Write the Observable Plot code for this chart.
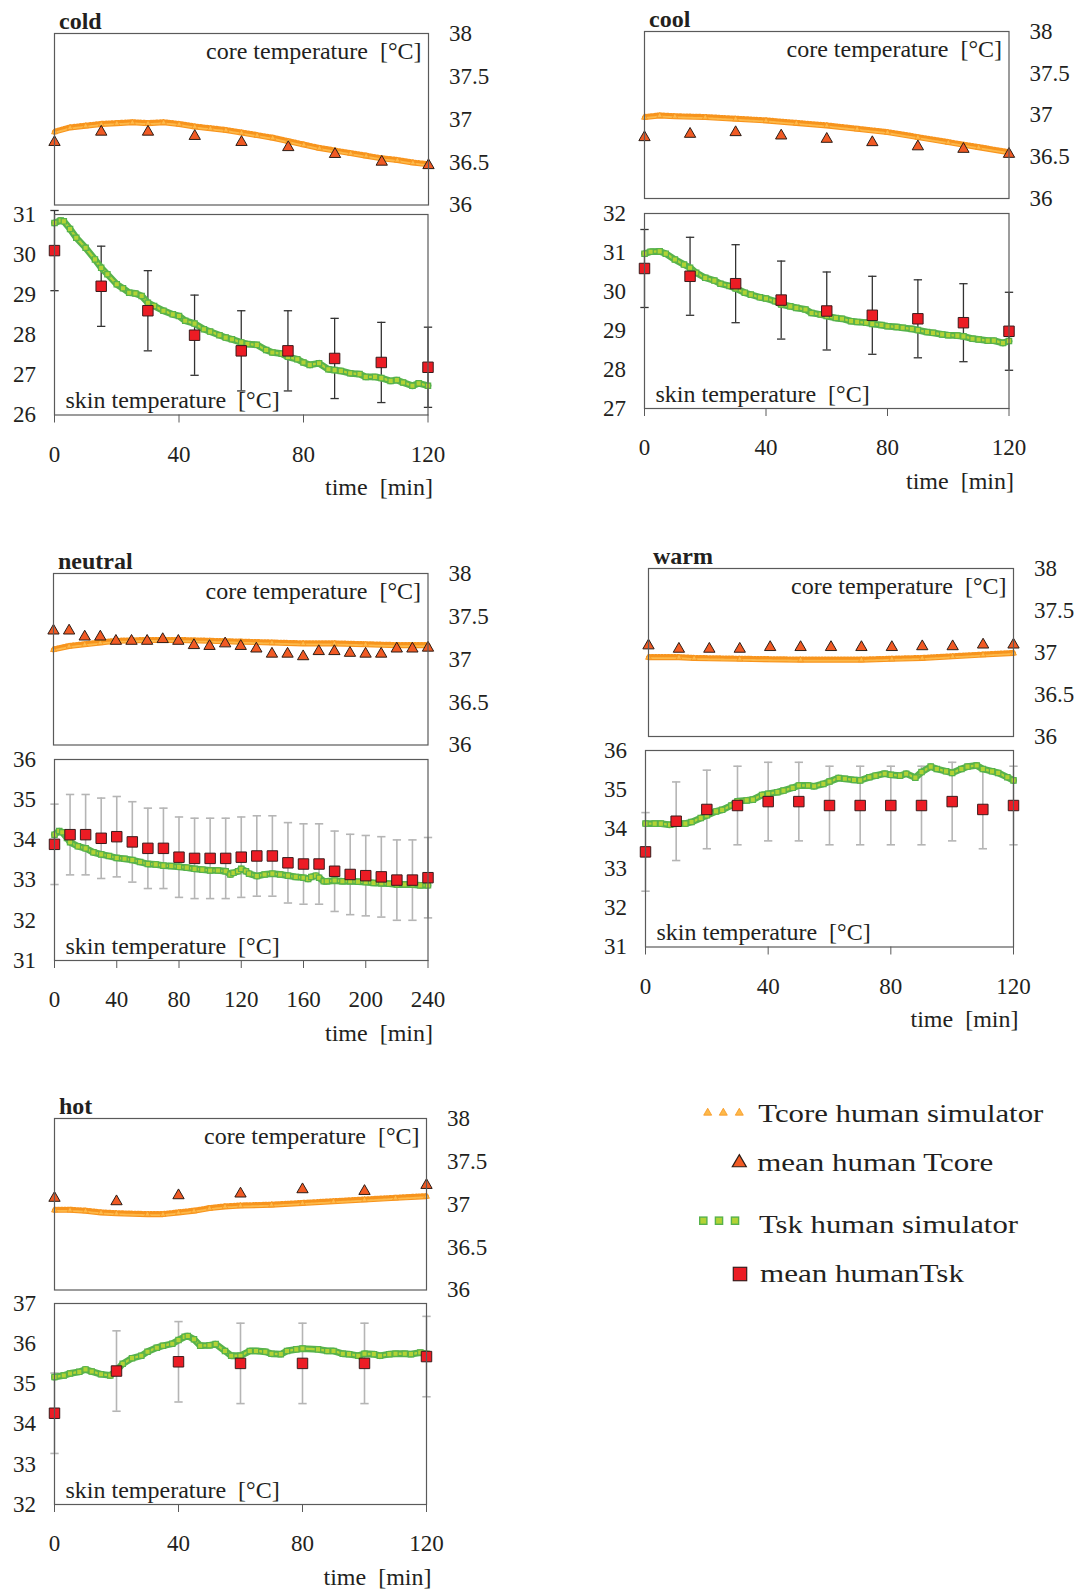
<!DOCTYPE html>
<html><head><meta charset="utf-8">
<script src="https://cdn.jsdelivr.net/npm/d3@7"></script>
<script src="https://cdn.jsdelivr.net/npm/@observablehq/plot@0.6"></script>
<style>
html,body{margin:0;padding:0;background:#fff}
#root{position:relative;width:1081px;height:1589px;background:#fff;overflow:hidden}
</style>
</head><body><div id="root"></div>
<script>
// ---------------- DATA ----------------
const coreTicks = [36, 36.5, 37, 37.5, 38];
const ticks120 = [0, 40, 80, 120];
const ticks240 = [0, 40, 80, 120, 160, 200, 240];

// cold
const coldMeanT = [0,15,30,45,60,75,90,105,120];
const coldCoreMean = [36.75,36.87,36.87,36.82,36.75,36.69,36.61,36.52,36.48];
const coldSkinMean = [30.10,29.21,28.60,27.99,27.60,27.60,27.41,27.31,27.19];
const coldSkinSD = [1.0,1.0,1.0,1.0,1.0,1.0,1.0,1.0,1.0];
const coldCoreSimT = [0,5,10,15,20,25,30,35,40,45,50,55,60,65,70,75,80,85,90,95,100,105,110,115,120];
const coldCoreSim = [36.85,36.90,36.92,36.94,36.95,36.96,36.95,36.96,36.94,36.91,36.89,36.87,36.84,36.81,36.78,36.74,36.70,36.66,36.63,36.60,36.57,36.54,36.52,36.49,36.47];
const coldSkinSimT = [0,2,3,5,7,10,13,15,17,20,22,24,26,28,30,32,35,38,40,42,45,48,50,53,55,57,60,62,65,68,70,73,75,78,80,82,85,88,90,92,95,98,100,103,105,108,110,112,115,117,120];
const coldSkinSim = [30.79,30.85,30.83,30.64,30.42,30.17,29.88,29.67,29.51,29.26,29.16,29.05,29.03,28.97,28.80,28.72,28.60,28.51,28.47,28.35,28.28,28.14,28.08,27.99,27.93,27.89,27.81,27.77,27.75,27.62,27.56,27.53,27.45,27.39,27.31,27.25,27.29,27.14,27.12,27.10,27.04,27.02,26.95,26.95,26.92,26.85,26.87,26.81,26.73,26.79,26.73];

// cool
const coolMeanT = [0,15,30,45,60,75,90,105,120];
const coolCoreMean = [36.75,36.79,36.81,36.77,36.73,36.69,36.64,36.61,36.55];
const coolSkinMean = [30.59,30.39,30.20,29.78,29.50,29.39,29.30,29.20,28.98];
const coolSkinSD = [1.0,1.0,1.0,1.0,1.0,1.0,1.0,1.0,1.0];
const coolCoreSimT = [0,5,10,20,30,40,50,60,70,80,90,100,110,120];
const coolCoreSim = [36.97,36.99,36.98,36.97,36.95,36.93,36.90,36.87,36.83,36.79,36.73,36.67,36.61,36.55];
const coolSkinSimT = [0,2,5,7,10,13,15,17,20,23,25,28,30,33,35,38,40,43,45,48,50,53,55,58,60,63,65,68,70,73,75,78,80,83,85,88,90,93,95,98,100,103,105,108,110,113,115,118,120];
const coolSkinSim = [30.97,31.02,31.03,30.97,30.82,30.69,30.61,30.48,30.35,30.28,30.20,30.14,30.08,29.97,29.92,29.85,29.82,29.75,29.67,29.62,29.58,29.54,29.45,29.41,29.37,29.32,29.30,29.24,29.22,29.20,29.17,29.14,29.11,29.09,29.07,29.04,29.01,28.96,28.94,28.90,28.88,28.87,28.85,28.79,28.77,28.74,28.74,28.68,28.73];

// neutral
const neutralMeanT = [0,10,20,30,40,50,60,70,80,90,100,110,120,130,140,150,160,170,180,190,200,210,220,230,240];
const neutralCoreMean = [37.35,37.35,37.28,37.28,37.23,37.23,37.23,37.25,37.23,37.18,37.17,37.20,37.17,37.14,37.08,37.08,37.05,37.11,37.11,37.09,37.08,37.08,37.14,37.14,37.15];
const neutralSkinMean = [33.89,34.13,34.13,34.04,34.08,33.95,33.79,33.79,33.57,33.54,33.54,33.54,33.57,33.60,33.60,33.43,33.40,33.40,33.22,33.14,33.11,33.08,33.00,33.00,33.06];
const neutralSkinSD = [1.0,1.0,1.0,1.0,1.0,1.0,1.0,1.0,1.0,1.0,1.0,1.0,1.0,1.0,1.0,1.0,1.0,1.0,1.0,1.0,1.0,1.0,1.0,1.0,1.0];
const neutralCoreSimT = [0,10,20,30,40,60,80,100,120,140,160,180,200,220,240];
const neutralCoreSim = [37.11,37.15,37.17,37.19,37.21,37.22,37.22,37.21,37.20,37.19,37.18,37.18,37.17,37.16,37.16];
const neutralSkinSimT = [0,3,5,8,10,15,20,25,30,35,40,45,50,55,60,65,70,75,80,85,90,95,100,105,110,113,115,118,120,123,125,130,135,140,145,150,155,160,163,165,168,170,173,175,180,185,190,195,200,205,210,215,220,225,230,235,240];
const neutralSkinSim = [34.13,34.22,34.19,34.05,33.94,33.84,33.79,33.69,33.64,33.60,33.55,33.53,33.50,33.45,33.40,33.39,33.36,33.35,33.33,33.31,33.28,33.26,33.24,33.24,33.22,33.14,33.18,33.22,33.28,33.22,33.16,33.10,33.14,33.16,33.14,33.11,33.08,33.06,33.03,33.08,33.11,33.06,32.97,32.97,32.99,32.97,32.97,32.96,32.95,32.93,32.92,32.91,32.89,32.89,32.89,32.87,32.87];

// warm
const warmMeanT = [0,10,20,30,40,50,60,70,80,90,100,110,120];
const warmCoreMean = [37.10,37.06,37.06,37.06,37.08,37.08,37.08,37.08,37.08,37.09,37.09,37.11,37.11];
const warmSkinMean = [33.42,34.20,34.50,34.60,34.70,34.70,34.60,34.60,34.60,34.60,34.70,34.50,34.60];
const warmSkinSD = [1.0,1.0,1.0,1.0,1.0,1.0,1.0,1.0,1.0,1.0,1.0,1.0,1.0];
const warmCoreSimT = [0,10,15,30,50,70,80,90,100,110,120];
const warmCoreSim = [36.94,36.94,36.93,36.92,36.91,36.91,36.92,36.93,36.95,36.97,36.99];
const warmSkinSimT = [0,3,5,8,10,13,15,18,20,23,25,28,30,33,35,38,40,43,45,48,50,53,55,58,60,63,65,68,70,73,75,78,80,83,85,88,90,93,95,98,100,103,105,108,110,113,115,118,120];
const warmSkinSim = [34.14,34.14,34.14,34.11,34.14,34.14,34.18,34.28,34.35,34.45,34.49,34.60,34.71,34.73,34.75,34.87,34.90,34.94,34.98,35.05,35.11,35.11,35.09,35.15,35.21,35.30,35.28,35.25,35.24,35.32,35.36,35.41,35.38,35.36,35.41,35.31,35.45,35.59,35.53,35.47,35.43,35.53,35.59,35.62,35.53,35.47,35.43,35.32,35.24];

// hot
const hotMeanT = [0,20,40,60,80,100,120];
const hotCoreMean = [37.09,37.05,37.12,37.14,37.19,37.17,37.24];
const hotSkinMean = [34.27,35.32,35.55,35.51,35.51,35.51,35.68];
const hotSkinSD = [1.0,1.0,1.0,1.0,1.0,1.0,1.0];
const hotCoreSimT = [0,5,10,15,20,30,35,40,45,50,55,60,70,80,90,100,110,120];
const hotCoreSim = [36.93,36.93,36.92,36.90,36.89,36.88,36.88,36.90,36.92,36.95,36.97,36.98,36.99,37.01,37.03,37.05,37.07,37.09];
const hotSkinSimT = [0,3,5,8,10,12,15,18,20,22,25,28,30,33,35,38,40,42,43,45,47,50,52,55,57,60,63,65,68,70,73,75,78,80,85,88,90,93,95,98,100,103,105,108,110,113,115,118,120];
const hotSkinSim = [35.17,35.21,35.26,35.30,35.36,35.31,35.24,35.21,35.33,35.50,35.64,35.70,35.80,35.90,35.95,36.00,36.09,36.17,36.19,36.11,35.95,35.96,35.99,35.82,35.70,35.70,35.82,35.82,35.80,35.75,35.74,35.82,35.86,35.88,35.86,35.82,35.82,35.75,35.74,35.70,35.75,35.74,35.70,35.74,35.75,35.75,35.74,35.78,35.75];

const legendLabels = ["Tcore human simulator", "mean human Tcore", "Tsk human simulator", "mean humanTsk"];

// ---------------- DRAWING ----------------
const root = document.getElementById("root");
const FONT = "'Liberation Serif','Times New Roman',Times,serif";
const INK = "#231f20";
const FRAME = "#5a5a5a";
const C_SIM_CORE = "#f7941d", C_SIM_CORE_IN = "#fdb94a";
const C_MEAN_CORE = "#f15a24";
const C_SIM_SKIN = "#57b24b", C_SIM_SKIN_IN = "#b3d335";
const C_MEAN_SKIN = "#ec1c24";
const baseStyle = {background: "transparent", overflow: "visible", fontFamily: FONT, fontSize: "23px", color: INK};
const capSymbol = {draw(ctx, size) { const w = Math.sqrt(size) / 2; ctx.moveTo(-w, 0); ctx.lineTo(w, 0); }};
const zip = (xs, ys) => d3.range(Math.min(xs.length, ys.length)).map(i => ({x: xs[i], y: ys[i]}));
const bars = (xs, ms, sds) => d3.range(Math.min(xs.length, ms.length)).map(i => ({x: xs[i], y1: ms[i] - sds[i], y2: ms[i] + sds[i]}));

function place(node, left, top) {
  node.style.position = "absolute";
  node.style.left = left + "px";
  node.style.top = top + "px";
  root.appendChild(node);
}

function drawCore(p) {
  const mL = 12, mR = 80, mT = 36, mB = 12;
  const sim = zip(p.simT, p.sim), mean = zip(p.meanT, p.mean);
  const svg = Plot.plot({
    width: p.R - p.L + mL + mR, height: p.B - p.T + mT + mB,
    marginLeft: mL, marginRight: mR, marginTop: mT, marginBottom: mB,
    style: baseStyle,
    x: {domain: p.xDomain, axis: null},
    y: {domain: [36, 38]},
    marks: [
      Plot.axisY({ticks: coreTicks, anchor: "right", tickSize: 0, tickPadding: 20.5, tickFormat: d => String(d), fontSize: 23, label: null}),
      Plot.line(sim, {x: "x", y: "y", stroke: C_SIM_CORE, strokeWidth: 5.2}),
      Plot.line(sim, {x: "x", y: "y", dy: -2.4, stroke: C_SIM_CORE, strokeWidth: 2.2, strokeDasharray: "1.6 1.6"}),
      Plot.line(sim, {x: "x", y: "y", dy: 0.6, stroke: C_SIM_CORE_IN, strokeWidth: 1.8, strokeDasharray: "2.4 0.9"}),
      Plot.dot(sim, {x: "x", y: "y", symbol: "triangle", r: 2.2, fill: C_SIM_CORE_IN, stroke: C_SIM_CORE, strokeWidth: 0.8}),
      Plot.dot(mean, {x: "x", y: "y", symbol: "triangle", r: 4.2, dy: 1.5, fill: C_MEAN_CORE, stroke: "#2b1d16", strokeWidth: 1}),
      Plot.frame({stroke: FRAME, strokeWidth: 1.2}),
      Plot.text([p.title], {text: d => d, frameAnchor: "top-left", textAnchor: "start", lineAnchor: "bottom", dx: 4.5, dy: -4.5, fontWeight: "bold", fontSize: 24, fill: INK}),
      Plot.text(["core temperature\u00a0\u00a0[°C]"], {text: d => d, frameAnchor: "top-right", textAnchor: "end", lineAnchor: "bottom", dx: -7, dy: 25, fontSize: 24, fill: INK})
    ]
  });
  place(svg, p.L - mL, p.T - mT);
}

function drawSkin(p) {
  const mL = 60, mR = 20, mT = 8, mB = 92;
  const sim = zip(p.simT, p.sim), mean = zip(p.meanT, p.mean), err = bars(p.meanT, p.mean, p.sd);
  const yTicks = d3.range(p.yDomain[0], p.yDomain[1] + 1);
  const svg = Plot.plot({
    width: p.R - p.L + mL + mR, height: p.B - p.T + mT + mB,
    marginLeft: mL, marginRight: mR, marginTop: mT, marginBottom: mB,
    style: baseStyle,
    x: {domain: p.xDomain},
    y: {domain: p.yDomain},
    marks: [
      Plot.axisY({ticks: yTicks, anchor: "left", tickSize: 0, tickPadding: 18.5, tickFormat: d => String(d), fontSize: 23, label: null}),
      Plot.axisX({ticks: p.xTicks, anchor: "bottom", tickSize: 8, tickPadding: 22.5, tickFormat: d => String(d), fontSize: 23, label: null, stroke: FRAME}),
      Plot.ruleX(err, {x: "x", y1: "y1", y2: "y2", stroke: p.errColor, strokeWidth: p.errWidth}),
      Plot.dot(err, {x: "x", y: "y1", symbol: capSymbol, r: 4.7, fill: "none", stroke: p.errColor, strokeWidth: p.errWidth}),
      Plot.dot(err, {x: "x", y: "y2", symbol: capSymbol, r: 4.7, fill: "none", stroke: p.errColor, strokeWidth: p.errWidth}),
      Plot.line(sim, {x: "x", y: "y", stroke: C_SIM_SKIN, strokeWidth: 6.8, strokeLinejoin: "round"}),
      Plot.line(sim, {x: "x", y: "y", stroke: C_SIM_SKIN_IN, strokeWidth: 2.4, strokeDasharray: "2.2 1"}),
      Plot.dot(sim, {x: "x", y: "y", symbol: "square", r: 3, fill: C_SIM_SKIN_IN, stroke: C_SIM_SKIN, strokeWidth: 1.2}),
      Plot.dot(mean, {x: "x", y: "y", symbol: "square", r: 5.9, fill: C_MEAN_SKIN, stroke: "#3a1c1c", strokeWidth: 1}),
      Plot.frame({stroke: FRAME, strokeWidth: 1.2}),
      Plot.text(["skin temperature\u00a0\u00a0[°C]"], {text: d => d, frameAnchor: "bottom-left", textAnchor: "start", lineAnchor: "bottom", dx: 11, dy: -7, fontSize: 24, fill: INK}),
      Plot.text(["time\u00a0\u00a0[min]"], {text: d => d, frameAnchor: "bottom-right", textAnchor: "end", lineAnchor: "bottom", dx: 5, dy: 80, fontSize: 24, fill: INK})
    ]
  });
  place(svg, p.L - mL, p.T - mT);
}

const DARK = "#333333", LIGHT = "#b5b5b5";

// cold
drawCore({title: "cold", L: 53.5, T: 32.5, R: 427.5, B: 204, xDomain: [0, 120], simT: coldCoreSimT, sim: coldCoreSim, meanT: coldMeanT, mean: coldCoreMean});
drawSkin({L: 53.5, T: 213.5, R: 427, B: 414, xDomain: [0, 120], xTicks: ticks120, yDomain: [26, 31], simT: coldSkinSimT, sim: coldSkinSim, meanT: coldMeanT, mean: coldSkinMean, sd: coldSkinSD, errColor: DARK, errWidth: 1.3});
// cool
drawCore({title: "cool", L: 644, T: 31, R: 1008.5, B: 198, xDomain: [0, 120], simT: coolCoreSimT, sim: coolCoreSim, meanT: coolMeanT, mean: coolCoreMean});
drawSkin({L: 644, T: 212.5, R: 1008.5, B: 407.5, xDomain: [0, 120], xTicks: ticks120, yDomain: [27, 32], simT: coolSkinSimT, sim: coolSkinSim, meanT: coolMeanT, mean: coolSkinMean, sd: coolSkinSD, errColor: DARK, errWidth: 1.3});
// neutral
drawCore({title: "neutral", L: 53, T: 572.5, R: 427.5, B: 744, xDomain: [0, 240], simT: neutralCoreSimT, sim: neutralCoreSim, meanT: neutralMeanT, mean: neutralCoreMean});
drawSkin({L: 54, T: 758.5, R: 427.5, B: 959.5, xDomain: [0, 240], xTicks: ticks240, yDomain: [31, 36], simT: neutralSkinSimT, sim: neutralSkinSim, meanT: neutralMeanT, mean: neutralSkinMean, sd: neutralSkinSD, errColor: LIGHT, errWidth: 1.6});
// warm
drawCore({title: "warm", L: 647.5, T: 567.5, R: 1012.5, B: 735.5, xDomain: [0, 120], simT: warmCoreSimT, sim: warmCoreSim, meanT: warmMeanT, mean: warmCoreMean});
drawSkin({L: 644.5, T: 750, R: 1012.5, B: 946.5, xDomain: [0, 120], xTicks: ticks120, yDomain: [31, 36], simT: warmSkinSimT, sim: warmSkinSim, meanT: warmMeanT, mean: warmSkinMean, sd: warmSkinSD, errColor: LIGHT, errWidth: 1.6});
// hot
drawCore({title: "hot", L: 53.5, T: 1117.5, R: 425.5, B: 1289, xDomain: [0, 120], simT: hotCoreSimT, sim: hotCoreSim, meanT: hotMeanT, mean: hotCoreMean});
drawSkin({L: 53.5, T: 1302.5, R: 425.5, B: 1503.5, xDomain: [0, 120], xTicks: ticks120, yDomain: [32, 37], simT: hotSkinSimT, sim: hotSkinSim, meanT: hotMeanT, mean: hotSkinMean, sd: hotSkinSD, errColor: LIGHT, errWidth: 1.6});

// ---------------- LEGEND ----------------
(function legend() {
  const svg = d3.create("svg").attr("width", 1081).attr("height", 1589)
    .style("position", "absolute").style("left", "0px").style("top", "0px")
    .style("pointer-events", "none").style("font-family", FONT);
  const tri = (w) => { const y = w / (2 * Math.sqrt(3)); return {size: 3 * Math.sqrt(3) * y * y, off: y / 2}; };
  const small = tri(8), big = tri(14);
  [707.7, 723.3, 739.3].forEach(x => svg.append("path").attr("d", d3.symbol(d3.symbolTriangle, small.size)()).attr("transform", `translate(${x},${1111.7 + small.off})`).attr("fill", C_SIM_CORE_IN).attr("stroke", C_SIM_CORE).attr("stroke-width", 0.8));
  svg.append("path").attr("d", d3.symbol(d3.symbolTriangle, big.size)()).attr("transform", `translate(739.3,${1160.7 + big.off})`).attr("fill", C_MEAN_CORE).attr("stroke", "#2b1d16").attr("stroke-width", 1.2);
  [703.3, 719, 735].forEach(x => svg.append("rect").attr("x", x - 3.6).attr("y", 1220.7 - 3.6).attr("width", 7.2).attr("height", 7.2).attr("fill", C_SIM_SKIN_IN).attr("stroke", C_SIM_SKIN).attr("stroke-width", 1.4));
  svg.append("rect").attr("x", 740 - 6.7).attr("y", 1274 - 6.7).attr("width", 13.4).attr("height", 13.4).attr("fill", C_MEAN_SKIN).attr("stroke", "#3a1c1c").attr("stroke-width", 1.2);
  const pos = [[758.3, 1121.7, 285], [757.3, 1170.7, 236], [759, 1233.3, 259], [760, 1281.7, 204]];
  legendLabels.forEach((t, i) => svg.append("text").attr("x", pos[i][0]).attr("y", pos[i][1])
    .attr("font-size", 26).attr("fill", INK).attr("textLength", pos[i][2]).attr("lengthAdjust", "spacingAndGlyphs").text(t));
  root.appendChild(svg.node());
})();
</script></body></html>
